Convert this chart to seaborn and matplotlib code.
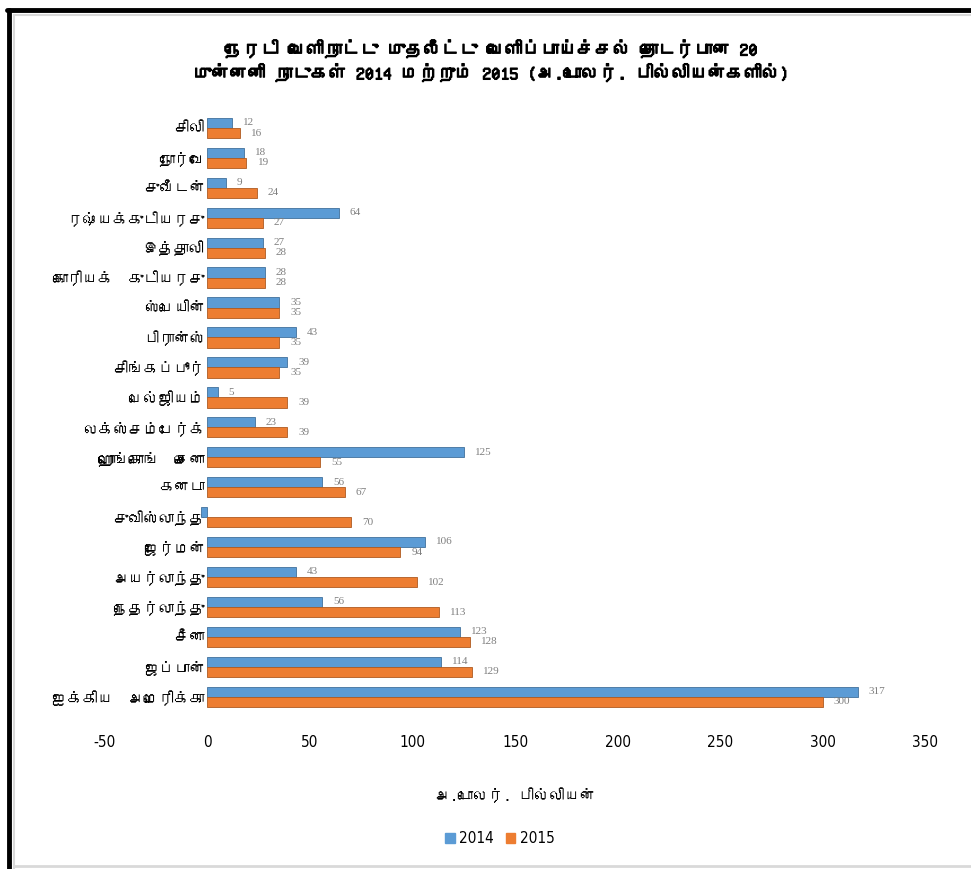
import matplotlib
matplotlib.use("Agg")
import matplotlib.pyplot as plt
from matplotlib import font_manager
from matplotlib.ft2font import FT2Font
from matplotlib.lines import Line2D
import matplotlib.patheffects as pe
import pandas as pd
import seaborn as sns

# data (US$ billions), top to bottom as in the chart
countries = ["சிலி", "நோர்வே", "சுவீடன்", "ரஷ்யக்குடியரசு", "இத்தாலி",
             "கொரியக்  குடியரசு", "ஸ்பெயின்", "பிரான்ஸ்", "சிங்கப்பூர்", "பெல்ஜியம்",
             "லக்ஸ்சம்பேர்க்", "ஹொங்கொங்  சைனா", "கனடா", "சுவிஸ்லாந்து", "ஜேர்மன்",
             "அயர்லாந்து", "நெதர்லாந்து", "சீனா", "ஜப்பான்", "ஐக்கிய  அமெரிக்கா"]
fdi_2014 = [12, 18, 9, 64, 27, 28, 35, 43, 39, 5, 23, 125, 56, -3, 106, 43, 56, 123, 114, 317]
fdi_2015 = [16, 19, 24, 27, 28, 28, 35, 35, 35, 39, 39, 55, 67, 70, 94, 102, 113, 128, 129, 300]
years = ["2014", "2015"]
x_ticks = [-50, 0, 50, 100, 150, 200, 250, 300, 350]

title = ("நேரடி வெளிநாட்டு முதலீட்டு வெளிப்பாய்ச்சல் தொடர்பான 20\n"
         "முன்னனி நாடுகள் 2014 மற்றும் 2015 (அ.டொலர். பில்லியன்களில்)")
x_title = "அ.டொலர். பில்லியன்"

# find an installed font with Tamil glyphs
tamil_font = None
for f in font_manager.fontManager.ttflist:
    try:
        if 0x0B9A in FT2Font(f.fname).get_charmap():
            tamil_font = f.name
            break
    except Exception:
        pass

sns.set_style("white")
fams = [tamil_font, "DejaVu Sans"] if tamil_font else ["DejaVu Sans"]
plt.rcParams["font.family"] = fams
plt.rcParams["text.color"] = "black"
plt.rcParams["axes.labelcolor"] = "black"
plt.rcParams["xtick.color"] = "black"
plt.rcParams["ytick.color"] = "black"

df = pd.DataFrame({
    "country": countries * 2,
    "year": [years[0]] * len(countries) + [years[1]] * len(countries),
    "value": fdi_2014 + fdi_2015,
})

fig = plt.figure(figsize=(9.71, 8.69), dpi=100)
ax = fig.add_axes([0.108, 0.181, 0.845, 0.689])

sns.barplot(data=df, y="country", x="value", hue="year", order=countries,
            hue_order=years, palette=["#5B9BD5", "#ED7D31"], saturation=1,
            orient="h", width=0.68, gap=0, edgecolor="none", ax=ax, legend=False)

for cont, edge in zip(ax.containers, ["#41719C", "#AE5A21"]):
    for b in cont:
        b.set_edgecolor(edge)
        b.set_linewidth(0.6)
    labels = [f"{v:g}" if v > 0 else "" for v in cont.datavalues]
    ax.bar_label(cont, labels=labels, padding=8, fontsize=8,
                 color="#7F7F7F", family="Liberation Serif")

narrow = {"family": "DejaVu Sans", "stretch": "condensed", "size": 11}

ax.set_xlim(-50, 350)
ax.set_xticks(x_ticks)
ax.set_xticklabels([str(t) for t in x_ticks], fontdict=narrow)
ax.tick_params(axis="x", length=0, pad=17)
ax.tick_params(axis="y", length=0, pad=2, labelsize=11)
for lab in ax.get_yticklabels():
    lab.set_family(fams)

# category axis crosses at 0 like the original
ax.spines["left"].set_position(("data", 0))
for s in ax.spines.values():
    s.set_visible(False)

ax.set_ylabel("")
ax.set_xlabel(x_title, fontsize=11, labelpad=27)

fig.text(0.505, 0.93, title, ha="center", va="center", fontsize=13,
         fontweight="bold", linespacing=1.3,
         path_effects=[pe.withStroke(linewidth=0.9, foreground="black")])

handles = [plt.Rectangle((0, 0), 1, 1, color=c) for c in ["#5B9BD5", "#ED7D31"]]
fig.legend(handles, years, loc="center", bbox_to_anchor=(0.515, 0.035), ncol=2,
           frameon=False, handlelength=0.6, handleheight=0.6,
           handletextpad=0.3, columnspacing=0.8, prop=narrow)

# screenshot frame
fig.add_artist(Line2D([0.009, 0.009], [0.0, 0.988], color="black", lw=3.5))
fig.add_artist(Line2D([0.007, 1.0], [0.988, 0.988], color="black", lw=3.5))
fig.add_artist(Line2D([0.014, 1.0], [0.983, 0.983], color="#D9D9D9", lw=1.5))
fig.add_artist(Line2D([0.014, 0.014], [0.0, 0.983], color="#D9D9D9", lw=1.5))
fig.add_artist(Line2D([0.014, 1.0], [0.003, 0.003], color="#D9D9D9", lw=2))

fig.savefig("out.png", dpi=100)
